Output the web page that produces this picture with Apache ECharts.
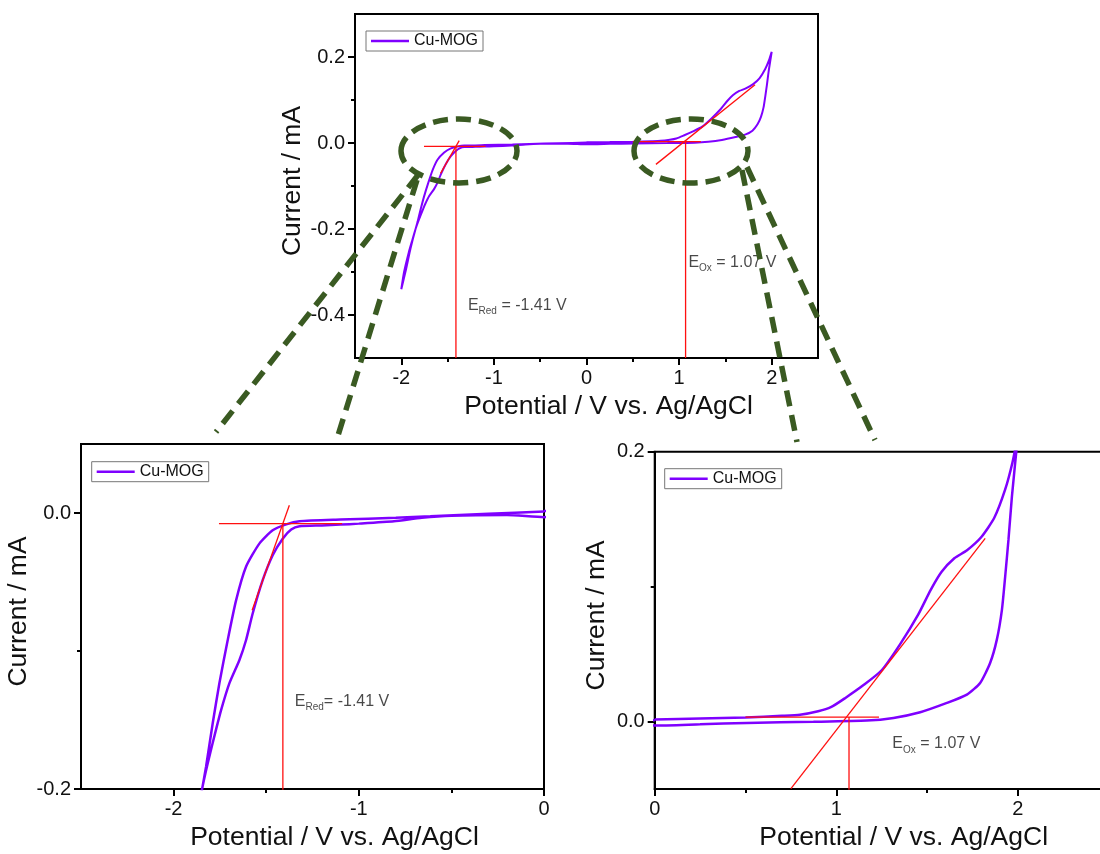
<!DOCTYPE html>
<html><head><meta charset="utf-8">
<script src="https://cdn.jsdelivr.net/npm/echarts@6/dist/echarts.min.js"></script>
<style>html,body{margin:0;padding:0;background:#fff;}#c{width:1100px;height:854px;}</style>
</head><body><div id="c"></div>
<script>
// Cyclic voltammogram of Cu-MOG, points in scan order: potential (V) and current (mA)
const cvPotential = [
  0.00, 0.25, 0.50, 0.70, 0.80, 0.90, 0.97, 1.05, 1.15, 1.25, 1.35, 1.45, 1.52, 1.58, 1.65, 1.72, 1.80, 1.87, 1.93, 1.97, 2.00,
  1.967, 1.948, 1.930, 1.912, 1.884, 1.847, 1.792, 1.719, 1.609, 1.462, 1.315, 1.168, 0.874, 0.507, 0.250, 0.000,
  -0.20, -0.50, -0.66, -0.81, -1.00, -1.10, -1.20, -1.32, -1.365, -1.411, -1.465, -1.519, -1.573, -1.609, -1.645, -1.699, -1.744, -1.771, -1.816, -1.846, -1.90, -1.95, -2.00,
  -1.97, -1.92, -1.88, -1.846, -1.825, -1.789, -1.753, -1.708, -1.663, -1.609, -1.537, -1.465, -1.392, -1.320, -1.099, -0.80, -0.614, -0.30, 0.00
];
const cvCurrent = [
  0.0015, 0.0022, 0.0030, 0.0042, 0.0050, 0.0076, 0.0106, 0.0175, 0.0270, 0.0380, 0.0570, 0.0790, 0.0976, 0.1110, 0.1210, 0.1270, 0.1370, 0.1510, 0.1720, 0.1920, 0.2120,
  0.1667, 0.1346, 0.1075, 0.0828, 0.0607, 0.0434, 0.0286, 0.0200, 0.0138, 0.0069, 0.0027, 0.0007, -0.0002, -0.0010, -0.0020, -0.0030,
  -0.0015, -0.0020, -0.0035, -0.0060, -0.0077, -0.0084, -0.0090, -0.0096, -0.0120, -0.0186, -0.0306, -0.0487, -0.0728, -0.0922, -0.1067, -0.1235, -0.1430, -0.1570, -0.1815, -0.2000, -0.2450, -0.2950, -0.3400,
  -0.3000, -0.2550, -0.2250, -0.2000, -0.1840, -0.1525, -0.1235, -0.0922, -0.0635, -0.0390, -0.0222, -0.0125, -0.0082, -0.0060, -0.0048, -0.0035, -0.0024, -0.0005, 0.0010
];
const seriesName = 'Cu-MOG';

// Onset construction lines (V, mA)
const eRedBaseV = [-1.755, -1.09];  const eRedBaseI = [-0.0077, -0.0077];
const eRedTanV  = [-1.576, -1.375]; const eRedTanI  = [-0.0705, 0.0056];
const eRedDropV = [-1.41, -1.41];   const eRedDropI = [-0.0077, -0.5];
const eOxBaseV  = [0.50, 1.235];    const eOxBaseI  = [0.0033, 0.0033];
const eOxTanV   = [0.75, 1.82];     const eOxTanI   = [-0.0497, 0.1357];
const eOxDropV  = [1.07, 1.07];     const eOxDropI  = [0.0033, -0.5];

// Annotation texts and their anchors (V, mA)
const redLabelTop = ['{e|E}{s|Red}{e| = -1.41 V}', -1.286, -0.377];
const oxLabelTop  = ['{e|E}{s|Ox}{e| = 1.07 V}', 1.095, -0.277];
const redLabelZoom = ['{e|E}{s|Red}{e|= -1.41 V}', -1.348, -0.1364];
const oxLabelZoom  = ['{e|E}{s|Ox}{e| = 1.07 V}', 1.306, -0.0165];

// Axis ranges and ticks
const topX = [-2.5, 2.5]; const topXMajor = [-2, -1, 0, 1, 2]; const topXMinor = [-1.5, -0.5, 0.5, 1.5];
const topY = [-0.5, 0.3]; const topYMajor = [-0.4, -0.2, 0, 0.2]; const topYMinor = [-0.3, -0.1, 0.1];
const blX = [-2.5, 0]; const blXMajor = [-2, -1, 0]; const blXMinor = [-1.5, -0.5];
const blY = [-0.2, 0.05]; const blYMajor = [-0.2, 0]; const blYMinor = [-0.1];
const brX = [0, 2.5]; const brXMajor = [0, 1, 2]; const brXMinor = [0.5, 1.5];
const brY = [-0.05, 0.2]; const brYMajor = [0, 0.2]; const brYMinor = [0.1];

const xTitle = 'Potential / V vs. Ag/AgCl';
const yTitle = 'Current / mA';

const FF = '"Liberation Sans", Arial, Helvetica, sans-serif';
const PURPLE = '#7F00FF';
const RED = '#FF1010';
const GREEN = '#3A5A22';

function pairs(V, I) { return V.map((v, i) => [v, I[i]]); }

function mainX(g, r, major) {
  return {
    type: 'value', gridIndex: g, min: r[0], max: r[1], position: 'bottom',
    name: xTitle, nameLocation: 'middle', nameGap: 35,
    nameTextStyle: { fontSize: 26.5, color: '#111', fontFamily: FF, padding: [0, 0, 0, 44] },
    axisLine: { show: true, onZero: false, lineStyle: { color: '#000', width: 2 } },
    axisTick: { show: true, inside: false, length: 7, customValues: major, lineStyle: { color: '#000', width: 2 } },
    axisLabel: { show: true, customValues: major, margin: 10, fontSize: 20, color: '#111', fontFamily: FF,
      formatter: v => String(Math.round(v)) },
    splitLine: { show: false }
  };
}
function minorX(g, r, minor) {
  return {
    type: 'value', gridIndex: g, min: r[0], max: r[1], position: 'bottom',
    axisLine: { show: false, onZero: false },
    axisTick: { show: true, inside: false, length: 4, customValues: minor, lineStyle: { color: '#000', width: 2 } },
    axisLabel: { show: false }, splitLine: { show: false }
  };
}
function mainY(g, r, major) {
  return {
    type: 'value', gridIndex: g, min: r[0], max: r[1], position: 'left',
    name: yTitle, nameLocation: 'middle', nameGap: 45,
    nameTextStyle: { fontSize: 26.5, color: '#111', fontFamily: FF, padding: [0, 0, 0, 10] },
    axisLine: { show: true, onZero: false, lineStyle: { color: '#000', width: 2 } },
    axisTick: { show: true, inside: false, length: 7, customValues: major, lineStyle: { color: '#000', width: 2 } },
    axisLabel: { show: true, customValues: major, margin: 10, fontSize: 20, color: '#111', fontFamily: FF,
      formatter: v => Math.abs(v) < 1e-9 ? '0.0' : v.toFixed(1) },
    splitLine: { show: false }
  };
}
function minorY(g, r, minor) {
  return {
    type: 'value', gridIndex: g, min: r[0], max: r[1], position: 'left',
    axisLine: { show: false, onZero: false },
    axisTick: { show: true, inside: false, length: 4, customValues: minor, lineStyle: { color: '#000', width: 2 } },
    axisLabel: { show: false }, splitLine: { show: false }
  };
}
function cvSeries(g, w) {
  return { type: 'line', name: seriesName, xAxisIndex: g, yAxisIndex: g, data: pairs(cvPotential, cvCurrent),
    symbol: 'none', showSymbol: false, smooth: 0.2, clip: true, silent: true, z: 2,
    lineStyle: { color: PURPLE, width: w }, itemStyle: { color: PURPLE } };
}
function redSeries(g, V, I) {
  return { type: 'line', xAxisIndex: g, yAxisIndex: g, data: pairs(V, I), symbol: 'none', showSymbol: false,
    clip: true, silent: true, z: 3, lineStyle: { color: RED, width: 1.3 } };
}
function labelSeries(g, lab) {
  return { type: 'scatter', xAxisIndex: g, yAxisIndex: g, data: [[lab[1], lab[2]]], symbolSize: 1, silent: true, z: 4,
    itemStyle: { color: 'rgba(0,0,0,0)' },
    label: { show: true, position: 'right', distance: 0, formatter: lab[0], color: '#111',
      rich: {
        e: { fontSize: 16, color: '#1a1a1a', fontFamily: FF, lineHeight: 22, verticalAlign: 'middle' },
        s: { fontSize: 10, color: '#1a1a1a', fontFamily: FF, lineHeight: 10, verticalAlign: 'bottom' }
      } } };
}
function legendAt(left, top) {
  return { data: [seriesName], left: left, top: top, orient: 'horizontal', icon: 'rect', itemWidth: 38, itemHeight: 2.5,
    padding: [2, 5, 2, 5], borderColor: '#777', borderWidth: 1, backgroundColor: '#fff', selectedMode: false,
    textStyle: { fontSize: 16, color: '#111', fontFamily: FF } };
}

const gridBase = { show: true, borderColor: '#000', borderWidth: 2, backgroundColor: 'transparent',
  containLabel: false, outerBoundsMode: 'none' };

const chart = echarts.init(document.getElementById('c'), null, { renderer: 'canvas' });
chart.setOption({
  animation: false,
  backgroundColor: '#fff',
  grid: [
    Object.assign({ left: 355, top: 14, width: 463, height: 344 }, gridBase),
    Object.assign({ left: 81, top: 444, width: 463, height: 345 }, gridBase),
    Object.assign({ left: 654.7, top: 451.7, width: 454, height: 337.3 }, gridBase)
  ],
  xAxis: [mainX(0, topX, topXMajor), mainX(1, blX, blXMajor), mainX(2, brX, brXMajor),
          minorX(0, topX, topXMinor), minorX(1, blX, blXMinor), minorX(2, brX, brXMinor)],
  yAxis: [mainY(0, topY, topYMajor), mainY(1, blY, blYMajor), mainY(2, brY, brYMajor),
          minorY(0, topY, topYMinor), minorY(1, blY, blYMinor), minorY(2, brY, brYMinor)],
  legend: [legendAt(366, 31), legendAt(91.7, 461.7), legendAt(664.7, 468.7)],
  series: [
    cvSeries(0, 2), cvSeries(1, 2.5), cvSeries(2, 2.5),
    redSeries(0, eRedBaseV, eRedBaseI), redSeries(0, eRedTanV, eRedTanI), redSeries(0, eRedDropV, eRedDropI),
    redSeries(0, eOxBaseV, eOxBaseI), redSeries(0, eOxTanV, eOxTanI), redSeries(0, eOxDropV, eOxDropI),
    redSeries(1, eRedBaseV, eRedBaseI), redSeries(1, eRedTanV, eRedTanI), redSeries(1, eRedDropV, eRedDropI),
    redSeries(2, eOxBaseV, eOxBaseI), redSeries(2, eOxTanV, eOxTanI), redSeries(2, eOxDropV, eOxDropI),
    labelSeries(0, redLabelTop), labelSeries(0, oxLabelTop), labelSeries(1, redLabelZoom), labelSeries(2, oxLabelZoom)
  ],
  graphic: [
    { type: 'ellipse', z: 100, shape: { cx: 459, cy: 151, rx: 58, ry: 32 }, style: { fill: null, stroke: GREEN, lineWidth: 5.5, lineDash: [15, 8] } },
    { type: 'ellipse', z: 100, shape: { cx: 691, cy: 151, rx: 57, ry: 32 }, style: { fill: null, stroke: GREEN, lineWidth: 5.5, lineDash: [15, 8] } },
    { type: 'line', z: 100, shape: { x1: 418, y1: 175, x2: 216, y2: 432 }, style: { stroke: GREEN, lineWidth: 5.5, lineDash: [16, 9] } },
    { type: 'line', z: 100, shape: { x1: 417, y1: 180, x2: 336, y2: 442 }, style: { stroke: GREEN, lineWidth: 5.5, lineDash: [16, 9] } },
    { type: 'line', z: 100, shape: { x1: 742, y1: 170, x2: 797, y2: 442 }, style: { stroke: GREEN, lineWidth: 5.5, lineDash: [16, 9] } },
    { type: 'line', z: 100, shape: { x1: 747, y1: 167, x2: 875, y2: 440 }, style: { stroke: GREEN, lineWidth: 5.5, lineDash: [16, 9] } }
  ]
});
</script>
</body></html>
